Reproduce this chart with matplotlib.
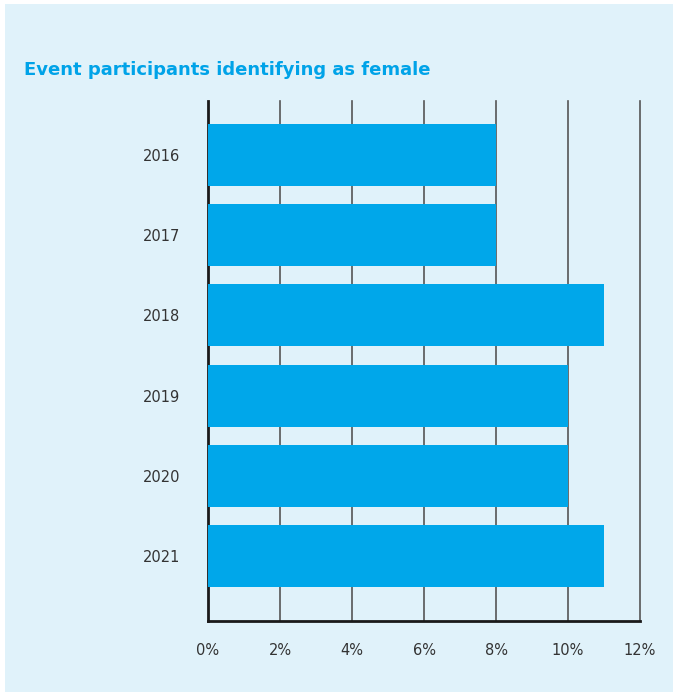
import matplotlib.pyplot as plt
from matplotlib.patches import Rectangle

# Data
years = ["2016", "2017", "2018", "2019", "2020", "2021"]
female_pct = [8, 8, 11, 10, 10, 11]
xticks = [0, 2, 4, 6, 8, 10, 12]

bg = "#e0f2fa"
bar_color = "#00a7ea"
title_color = "#00a3e8"

fig = plt.figure(figsize=(6.78, 6.97), dpi=100)
fig.patches.append(Rectangle((5 / 678, 5 / 697), 668 / 678, 688 / 697,
                             transform=fig.transFigure, facecolor=bg,
                             edgecolor="none", zorder=-10))

ax = fig.add_axes([208 / 678, 76 / 697, 432 / 678, 520 / 697])
ax.set_facecolor("none")

ax.barh(range(len(years)), female_pct, height=0.775, color=bar_color, zorder=3)

for x in xticks[1:]:
    ax.axvline(x, color="#555555", linewidth=1.2, zorder=1, clip_on=False)
ax.axvline(0, color="#1a1a1a", linewidth=2, zorder=1, clip_on=False)

ax.set_xlim(0, 12)
ax.set_ylim(5.8125, -0.675)

ax.set_yticks(range(len(years)))
ax.set_yticklabels(years)
ax.set_xticks(xticks)
ax.set_xticklabels([f"{x}%" for x in xticks])
ax.tick_params(length=0, labelsize=10.5, colors="#333333")
ax.tick_params(axis="x", pad=16)
ax.tick_params(axis="y", pad=30 - 10)

for s in ["top", "right", "left"]:
    ax.spines[s].set_visible(False)
ax.spines["bottom"].set_color("#1a1a1a")
ax.spines["bottom"].set_linewidth(2)

fig.text(24 / 678, 1 - 70 / 697, "Event participants identifying as female",
         fontsize=13, fontweight="bold", color=title_color, va="center", ha="left")

fig.savefig("out.png", dpi=100)
